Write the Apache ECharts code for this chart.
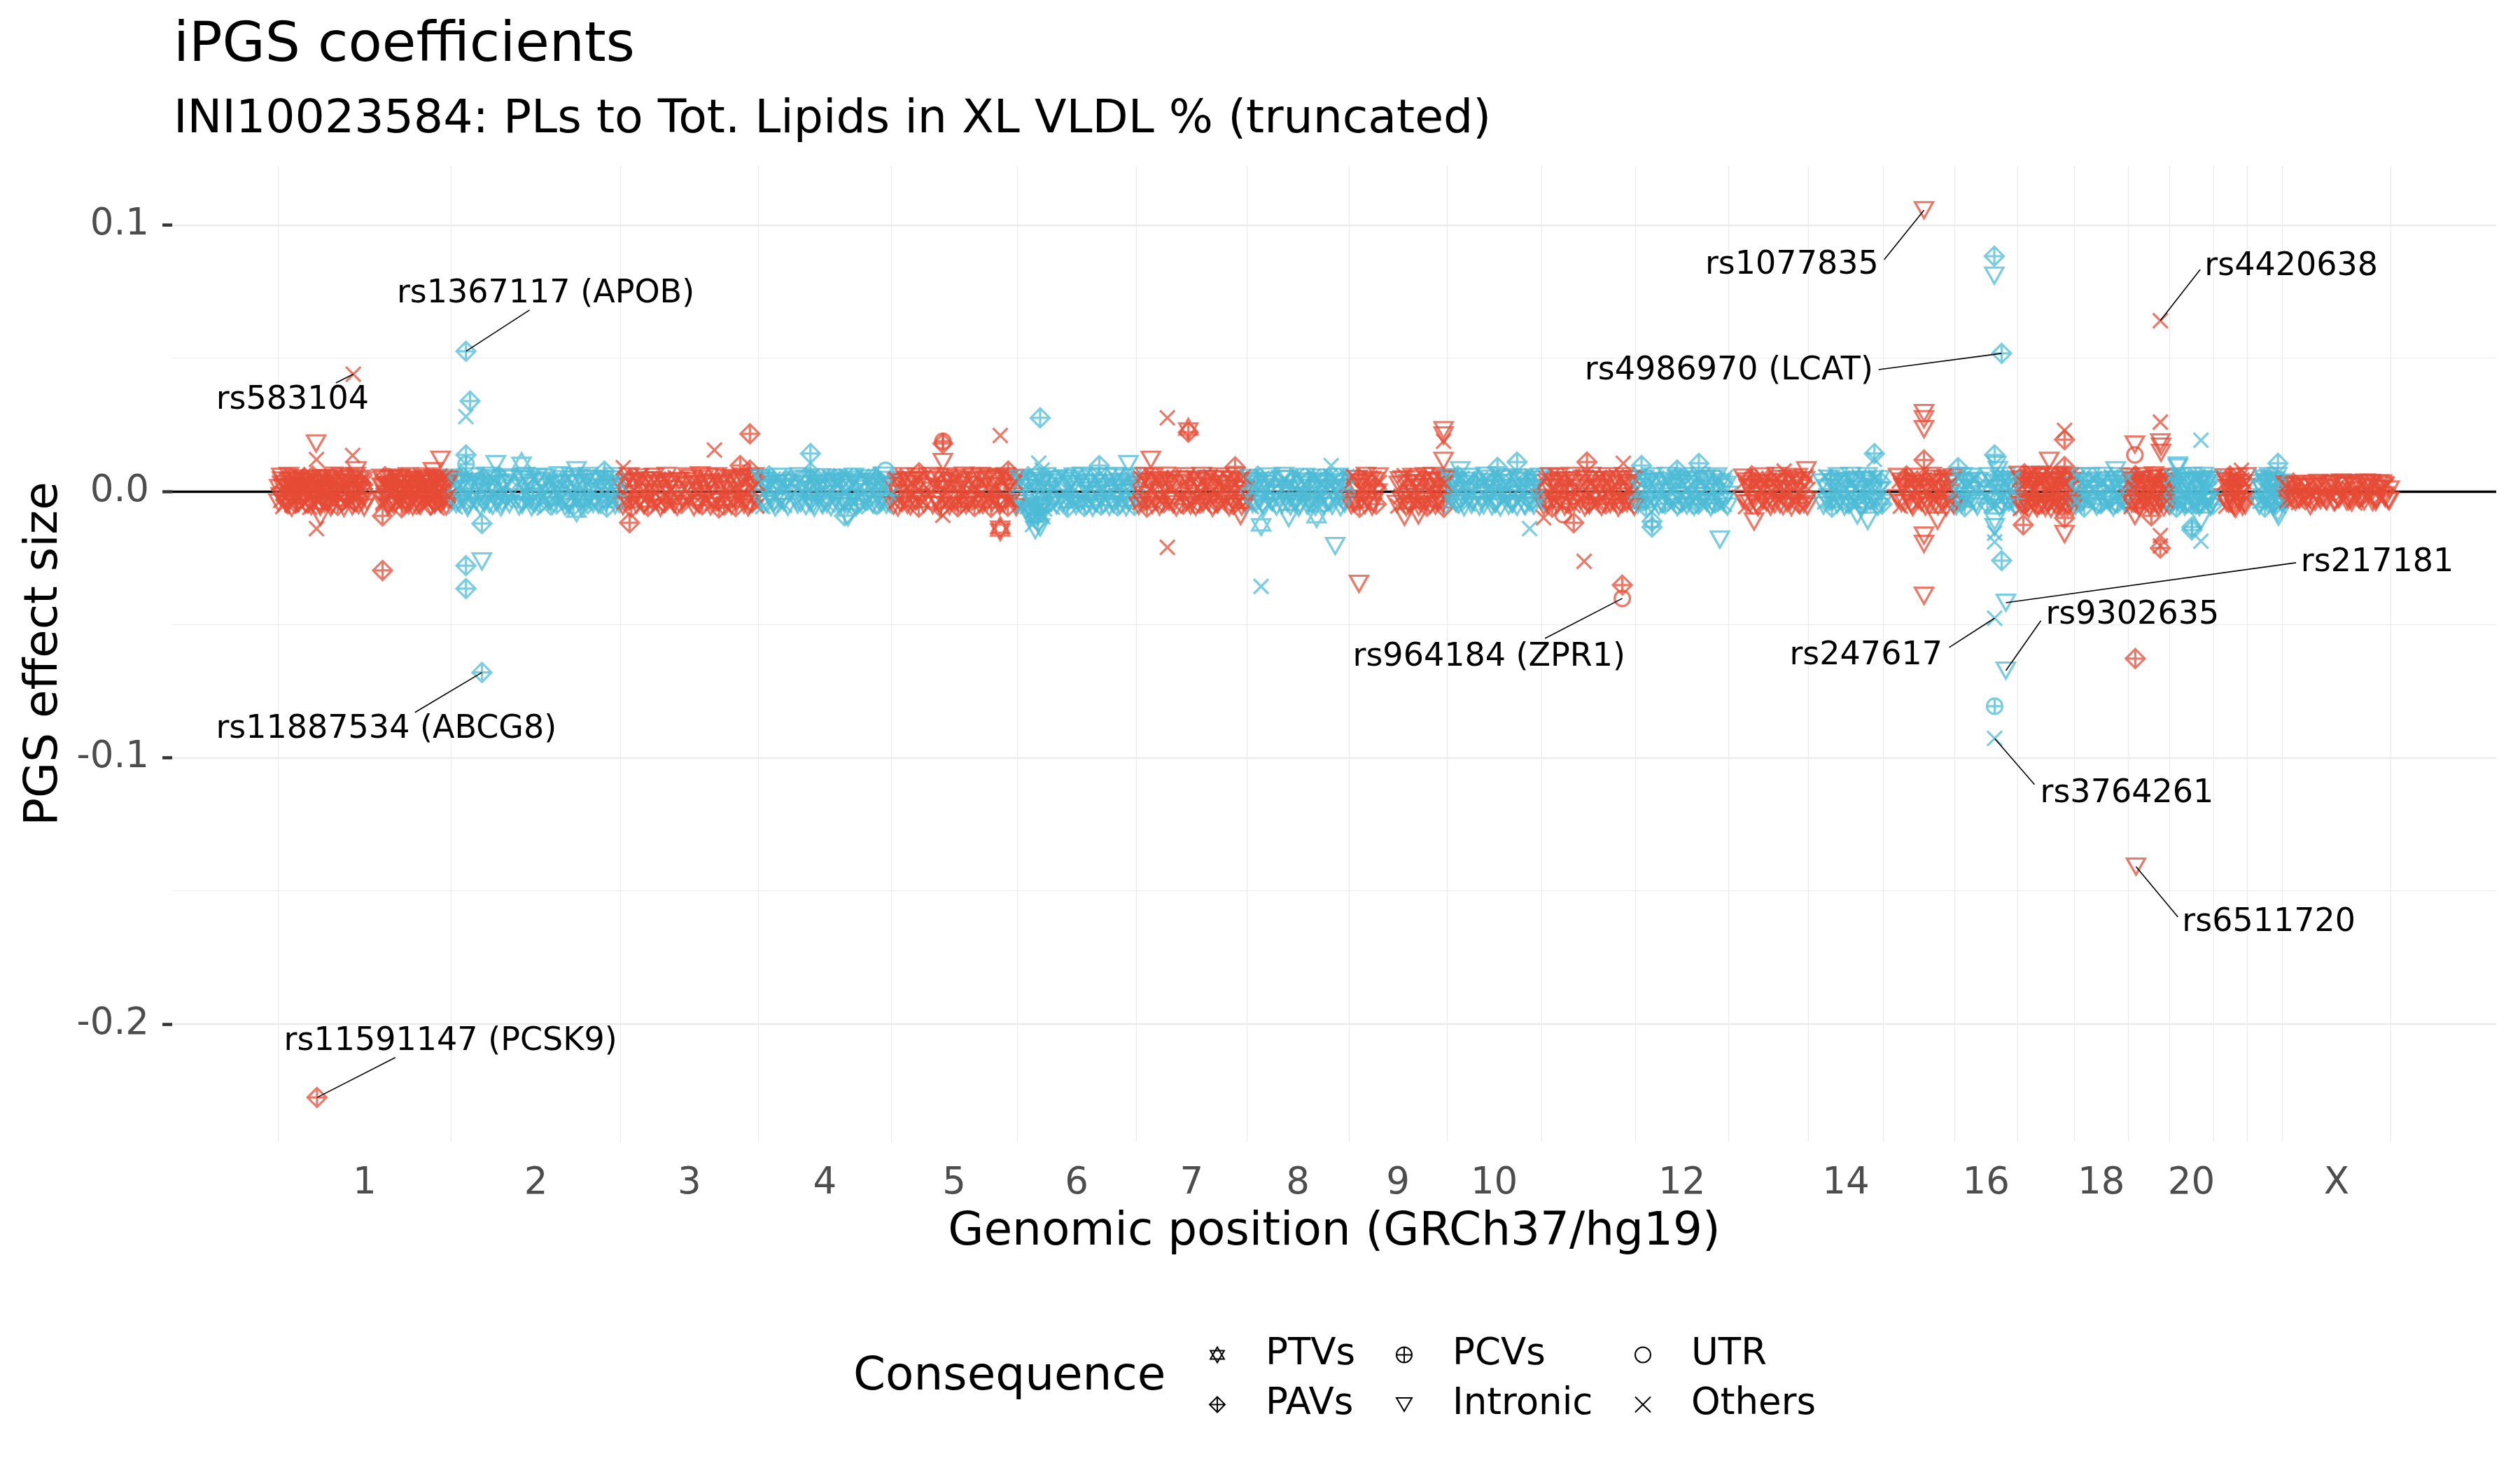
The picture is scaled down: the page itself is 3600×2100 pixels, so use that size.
<!DOCTYPE html>
<html>
<head>
<meta charset="utf-8">
<script src="https://cdn.jsdelivr.net/npm/echarts@6/dist/echarts.min.js"></script>
<style>html,body{margin:0;padding:0;background:#fff;}#c{width:3600px;height:2100px;}</style>
</head>
<body>
<div id="c"></div>
<script>
// ---------------- DATA ----------------
const chrNames = ['1','2','3','4','5','6','7','8','9','10','11','12','13','14','15','16','17','18','19','20','21','22','X'];
const chrLengths = [249.25,243.20,198.02,191.15,180.92,171.12,159.14,146.36,141.21,135.53,135.01,133.85,115.17,107.35,102.53,90.35,81.20,78.08,59.13,63.03,48.13,51.30,155.27];
const tickChrs = ['1','2','3','4','5','6','7','8','9','10','12','14','16','18','20','X'];
const consequences = ['PTVs','PAVs','PCVs','Intronic','UTR','Others'];
const yTicks = [-0.2,-0.1,0.0,0.1];
const yMinor = [-0.15,-0.05,0.05];

// dense bands (core): [position Mb within chromosome, beta x 1e-4, consequence index]
const bandChr1 = [[2,12,3],[4,-35,5],[6,41,3],[8,-8,5],[10,27,3],[12,-46,3],[14,5,5],[16,38,3],[18,-22,3],[20,-51,5],[22,19,3],[24,48,1],[26,-14,3],[28,31,5],[30,-39,3],[32,2,3],[34,52,5],[36,-27,3],[38,16,3],[40,-44,5],[42,36,3],[44,-5,3],[46,23,1],[48,-55,3],[50,44,5],[52,-18,3],[54,9,3],[56,-33,5],[58,29,3],[60,-48,3],[62,14,5],[64,50,3],[66,-24,3],[68,3,5],[70,-41,3],[72,35,1],[74,-12,3],[76,21,5],[78,-52,3],[80,42,3],[83,-6,5],[86,30,3],[89,-37,3],[92,11,5],[95,47,3],[98,-29,3],[101,-50,5],[104,26,3],[107,-15,3],[110,39,5],[113,-43,3],[116,7,3],[119,33,1],[122,-21,3],[125,46,5],[128,-36,3],[149,18,3],[151,-40,5],[153,45,3],[155,-10,3],[157,28,5],[159,-53,3],[161,13,3],[163,37,1],[165,-26,3],[167,4,5],[169,-45,3],[171,32,3],[173,-17,5],[175,49,3],[177,-31,3],[179,8,5],[181,-49,3],[183,25,3],[185,-3,5],[187,43,3],[189,-38,3],[191,17,1],[193,-20,3],[195,51,5],[197,-47,3],[199,10,3],[201,34,5],[203,-28,3],[205,-54,3],[207,22,5],[209,40,3],[211,-9,3],[213,-42,5],[215,29,3],[217,-16,3],[219,46,1],[221,-34,3],[223,6,5],[225,-50,3],[227,37,3],[229,-23,5],[231,15,3],[233,-44,3],[235,42,5],[237,-7,3],[239,27,3],[241,-39,5],[243,19,3],[245,-30,3]];
const bandChr2 = [[1,-30,3],[4,22,5],[7,-47,3],[10,40,3],[13,-12,1],[16,31,3],[19,-38,5],[22,8,3],[25,-52,3],[28,45,5],[31,-20,3],[34,15,3],[37,-41,5],[40,36,3],[43,-5,3],[46,50,1],[49,-33,3],[52,18,5],[55,-48,3],[58,27,3],[61,-9,5],[64,43,3],[67,-26,3],[70,4,5],[73,-44,3],[76,33,3],[79,-15,1],[82,48,3],[85,-37,5],[88,12,3],[96,-22,3],[99,39,5],[102,-50,3],[105,21,3],[108,-3,5],[111,46,3],[114,-31,3],[117,9,1],[120,-45,3],[123,30,5],[126,-18,3],[129,41,3],[132,-40,5],[135,16,3],[138,-7,3],[141,35,5],[144,-28,3],[147,3,3],[150,-42,5],[153,25,3],[156,-14,3],[159,38,1],[162,-36,3],[165,11,5],[168,-49,3],[171,29,3],[174,-10,5],[177,44,3],[180,-25,3],[183,6,5],[186,-39,3],[189,32,3],[192,-17,1],[195,47,3],[198,-34,5],[201,14,3],[204,-46,3],[207,24,5],[210,-2,3],[213,40,3],[216,-29,5],[219,10,3],[222,-43,3],[225,34,5],[228,-19,3],[231,45,3],[234,-35,5],[237,17,3],[240,-8,3],[242,28,5]];
const bandChr3 = [[2,18,3],[5,-40,5],[8,33,3],[11,-11,3],[14,47,1],[17,-29,3],[20,6,5],[23,-50,3],[26,38,3],[29,-19,5],[32,25,3],[35,-44,3],[38,12,5],[41,-4,3],[44,42,3],[47,-34,1],[50,20,3],[53,-53,5],[56,30,3],[59,-13,3],[62,49,5],[65,-38,3],[68,9,3],[71,-25,5],[74,36,3],[77,-47,3],[80,15,1],[83,-6,3],[86,44,5],[89,-32,3],[95,23,3],[98,-42,5],[101,3,3],[104,39,3],[107,-21,5],[110,28,3],[113,-49,3],[116,11,1],[119,46,3],[122,-30,5],[125,-9,3],[128,34,3],[131,-45,5],[134,19,3],[137,-16,3],[140,41,5],[143,-37,3],[146,7,3],[149,-52,1],[152,26,3],[155,-2,5],[158,45,3],[161,-27,3],[164,14,5],[167,-41,3],[170,32,3],[173,-12,5],[176,48,3],[179,-35,3],[182,21,1],[185,-46,3],[188,8,5],[191,37,3],[194,-23,3],[197,30,5]];
const bandChr4 = [[2,-26,3],[5,35,5],[8,-48,3],[11,13,3],[14,42,1],[17,-17,3],[20,24,5],[23,-39,3],[26,5,3],[29,47,5],[32,-31,3],[35,18,3],[38,-52,5],[41,31,3],[44,-8,3],[47,40,1],[55,-36,3],[58,10,5],[61,-44,3],[64,27,3],[67,-14,5],[70,45,3],[73,-28,3],[76,2,1],[79,-47,3],[82,33,5],[85,-20,3],[88,16,3],[91,43,5],[94,-38,3],[97,7,3],[100,-51,5],[103,29,3],[106,-11,3],[109,48,1],[112,-33,3],[115,20,5],[118,-43,3],[121,37,3],[124,-5,5],[127,26,3],[130,-40,3],[133,12,5],[136,44,3],[139,-24,3],[142,-49,1],[145,34,3],[148,-15,5],[151,22,3],[154,-37,3],[157,46,5],[160,-3,3],[163,30,3],[166,-45,5],[169,17,3],[172,-21,3],[175,39,1],[178,-32,3],[181,9,5],[184,-50,3],[187,25,3],[190,-12,5]];
const bandChr5 = [[2,20,3],[5,-43,5],[8,36,3],[11,-9,3],[14,47,1],[17,-30,3],[20,13,5],[23,-50,3],[26,28,3],[29,-18,5],[32,41,3],[35,-37,3],[38,4,5],[41,-24,3],[44,33,1],[47,-47,3],[55,17,3],[58,-6,5],[61,44,3],[64,-34,3],[67,22,5],[70,-52,3],[73,10,3],[76,38,1],[79,-20,3],[82,-41,5],[85,30,3],[88,-13,3],[91,48,5],[94,-28,3],[97,6,3],[100,-45,1],[103,35,3],[106,-16,5],[109,25,3],[112,-39,3],[115,2,5],[118,43,3],[121,-31,3],[124,15,1],[127,-49,3],[130,32,5],[133,-10,3],[136,46,3],[139,-26,5],[142,19,3],[145,-42,3],[148,8,5],[151,39,3],[154,-22,1],[157,-48,3],[160,27,5],[163,-3,3],[166,42,3],[169,-35,5],[172,14,3],[175,-19,3],[178,34,5],[180,-44,3]];
const bandChr6 = [[2,-29,3],[5,38,5],[8,-45,3],[11,14,3],[14,-58,5],[16,43,1],[18,-66,3],[20,-20,3],[22,-72,5],[24,31,3],[26,-55,3],[28,8,1],[30,-80,3],[32,47,5],[34,-38,3],[36,-62,3],[38,22,5],[40,-50,3],[43,-6,3],[46,36,1],[49,-42,3],[52,11,5],[55,-24,3],[58,45,3],[64,-33,5],[67,19,3],[70,-49,3],[73,3,5],[76,40,3],[79,-17,1],[82,28,3],[85,-40,5],[88,-7,3],[91,46,3],[94,-31,5],[97,16,3],[100,-52,3],[103,33,1],[106,-12,3],[109,24,5],[112,-44,3],[115,6,3],[118,41,5],[121,-27,3],[124,-47,3],[127,21,1],[130,-9,3],[133,37,5],[136,-36,3],[139,13,3],[142,48,5],[145,-21,3],[148,-50,3],[151,26,1],[154,-4,3],[157,35,5],[160,-39,3],[163,10,3],[166,44,5],[169,-25,3]];
const bandChr7 = [[2,24,3],[5,-41,5],[8,37,3],[11,-14,3],[14,49,1],[17,-33,3],[20,8,5],[23,-51,3],[26,30,3],[29,-21,5],[32,43,3],[35,-6,3],[38,-45,5],[41,18,3],[44,36,1],[47,-29,3],[50,3,5],[53,-48,3],[56,27,3],[66,-16,5],[69,45,3],[72,-38,3],[75,12,1],[78,-53,3],[81,33,5],[84,-9,3],[87,41,3],[90,-26,5],[93,20,3],[96,-44,3],[99,6,1],[102,47,3],[105,-32,5],[108,15,3],[111,-19,3],[114,39,5],[117,-49,3],[120,25,3],[123,-2,1],[126,44,3],[129,-36,5],[132,10,3],[135,-23,3],[138,34,5],[141,-46,3],[144,21,1],[147,-12,3],[150,48,5],[153,-30,3],[156,5,3],[158,-40,5]];
const bandChr8 = [[2,-22,3],[5,35,5],[8,-47,3],[11,12,3],[14,42,1],[17,-33,3],[20,4,5],[23,-52,3],[26,27,3],[29,-15,5],[32,40,3],[35,-38,3],[38,17,1],[41,-6,3],[49,46,3],[52,-28,5],[55,9,3],[58,-43,3],[61,31,5],[64,-18,3],[67,44,1],[70,-35,3],[73,2,5],[76,-49,3],[79,24,3],[82,-11,5],[85,38,3],[88,-41,3],[91,14,1],[94,-25,3],[97,47,5],[100,-31,3],[103,7,3],[106,-46,5],[109,29,3],[112,-13,3],[115,41,1],[118,-37,3],[121,19,5],[124,-3,3],[127,34,3],[130,-44,5],[133,11,3],[136,-20,3],[139,45,1],[142,-30,3],[145,22,5]];
const bandChr9 = [[2,-27,3],[5,39,5],[8,-44,3],[11,15,3],[14,48,1],[17,-35,3],[20,6,5],[23,-51,3],[26,30,3],[29,-12,5],[32,43,3],[35,-40,3],[38,19,1],[41,-4,3],[44,33,5],[69,-47,3],[72,25,3],[75,-18,5],[78,45,3],[81,-31,3],[84,9,1],[87,-53,3],[90,37,5],[93,-8,3],[96,28,3],[99,-42,5],[102,14,3],[105,-22,3],[108,47,1],[111,-36,3],[114,3,5],[117,-49,3],[120,34,3],[123,-14,5],[126,41,3],[129,-29,3],[132,18,1],[135,-45,3],[137,31,5],[140,-10,3]];
const bandChr10 = [[2,25,3],[5,-38,5],[8,44,3],[11,-10,3],[14,32,1],[17,-47,3],[20,13,5],[23,-24,3],[26,40,3],[29,-35,5],[32,6,3],[35,-50,3],[38,28,1],[45,-16,3],[48,46,5],[51,-30,3],[54,10,3],[57,-43,5],[60,35,3],[63,-5,3],[66,22,1],[69,-48,3],[72,39,5],[75,-19,3],[78,14,3],[81,-37,5],[84,47,3],[87,-26,3],[90,3,1],[93,-45,3],[96,30,5],[99,-12,3],[102,42,3],[105,-33,5],[108,17,3],[111,-52,3],[114,26,1],[117,-7,3],[120,37,5],[123,-40,3],[126,9,3],[129,-21,5],[132,45,3],[134,-31,3]];
const bandChr11 = [[2,-23,3],[5,36,5],[8,-46,3],[11,14,3],[14,45,1],[17,-30,3],[20,5,5],[23,-50,3],[26,29,3],[29,-14,5],[32,41,3],[35,-39,3],[38,20,1],[41,-5,3],[44,34,5],[47,-44,3],[50,12,3],[57,-25,5],[60,47,3],[63,-34,3],[66,8,1],[69,-52,3],[72,31,5],[75,-17,3],[78,42,3],[81,-41,5],[84,17,3],[87,-8,3],[90,38,1],[93,-28,3],[96,2,5],[99,-47,3],[102,27,3],[105,-19,5],[108,44,3],[111,-36,3],[114,11,1],[117,-3,3],[120,35,5],[123,-43,3],[126,22,3],[129,-12,5],[132,46,3],[134,-32,3]];
const bandChr12 = [[2,30,3],[5,-42,5],[8,17,3],[11,-11,3],[14,45,1],[17,-33,3],[20,7,5],[23,-50,3],[26,36,3],[29,-20,5],[32,24,3],[38,-45,3],[41,11,1],[44,-4,3],[47,42,5],[50,-29,3],[53,19,3],[56,-48,5],[59,33,3],[62,-15,3],[65,46,1],[68,-37,3],[71,4,5],[74,-53,3],[77,27,3],[80,-9,5],[83,40,3],[86,-31,3],[89,13,1],[92,-44,3],[95,35,5],[98,-18,3],[101,48,3],[104,-26,5],[107,9,3],[110,-40,3],[113,29,1],[116,-2,3],[119,43,5],[122,-35,3],[125,16,3],[128,-49,5],[131,25,3],[133,-13,3]];
const bandChr13 = [[20,-28,3],[23,37,5],[26,-45,3],[29,13,3],[32,46,1],[35,-17,3],[38,28,5],[41,-51,3],[44,6,3],[47,40,5],[50,-34,3],[53,20,1],[56,-8,3],[59,44,5],[62,-40,3],[65,11,3],[68,-24,5],[71,35,3],[74,-48,3],[77,3,1],[80,30,3],[83,-14,5],[86,47,3],[89,-37,3],[92,16,5],[95,-2,3],[98,39,3],[101,-44,1],[104,24,3],[107,-20,5],[110,42,3],[113,-31,3],[114.5,8,5]];
const bandChr14 = [[20,33,3],[23,-40,5],[26,12,3],[29,-22,3],[32,45,1],[35,-35,3],[38,4,5],[41,-49,3],[44,27,3],[47,-9,5],[50,38,3],[53,-31,3],[56,18,1],[59,-45,3],[62,31,5],[65,-14,3],[68,43,3],[71,-26,5],[74,7,3],[77,-52,3],[80,22,1],[83,40,3],[86,-18,5],[89,-38,3],[92,14,3],[95,47,5],[98,-30,3],[101,2,3],[104,35,1],[106,-43,3]];
const bandChr15 = [[20,-25,3],[23,39,5],[26,-43,3],[29,16,3],[32,46,1],[35,-12,3],[38,29,5],[41,-50,3],[44,8,3],[47,41,5],[50,-34,3],[53,21,1],[56,-5,3],[59,44,5],[62,-39,3],[65,13,3],[68,-21,5],[71,36,3],[74,-47,3],[77,4,1],[80,31,3],[83,-16,5],[86,45,3],[89,-36,3],[92,19,5],[95,-7,3],[98,38,3],[101,-42,1]];
const bandChr16 = [[1,28,3],[4,-39,5],[7,14,3],[10,-47,3],[13,42,1],[16,-18,3],[19,33,5],[22,-30,3],[25,5,3],[28,46,5],[31,-44,3],[34,20,1],[48,-12,3],[51,37,5],[54,-34,3],[57,10,3],[60,-50,5],[63,27,3],[66,-7,3],[69,44,1],[72,-26,3],[75,16,5],[78,-41,3],[81,35,3],[84,-2,5],[87,41,3],[89,-31,3]];
const bandChr17 = [[1,-30,3],[3,44,5],[5,-52,3],[7,18,3],[9,50,1],[11,-16,3],[13,34,5],[15,-44,3],[17,7,3],[19,-58,5],[21,40,3],[23,-24,1],[25,26,3],[27,-38,5],[29,55,3],[31,-6,3],[33,32,5],[35,-49,3],[37,12,1],[39,-27,3],[41,47,5],[43,-40,3],[45,3,3],[47,-55,5],[49,36,3],[51,-13,1],[53,22,3],[55,-46,5],[57,42,3],[59,-20,3],[61,9,5],[63,-36,3],[65,52,1],[67,-9,3],[69,28,5],[71,-50,3],[73,15,3],[75,-31,5],[77,39,3],[79,-22,1],[80,5,3]];
const bandChr18 = [[1,24,3],[4,-37,5],[7,11,3],[10,-48,3],[13,40,1],[16,-15,3],[19,31,5],[22,-29,3],[25,6,3],[28,45,5],[31,-42,3],[34,19,1],[37,-8,3],[40,36,5],[43,-33,3],[46,14,3],[49,-50,5],[52,28,3],[55,-20,1],[58,43,3],[61,-39,5],[64,9,3],[67,-25,3],[70,38,5],[73,-45,3],[76,17,1],[77.5,-10,3]];
const bandChr19 = [[1,-27,3],[3,38,5],[5,-45,3],[7,15,3],[9,48,1],[11,-16,3],[13,30,5],[15,-50,3],[17,7,3],[19,-33,5],[21,42,3],[23,-8,1],[28,25,3],[30,-40,5],[32,12,3],[34,46,3],[36,-22,1],[38,33,5],[40,-48,3],[42,4,3],[44,39,5],[46,-30,3],[48,19,1],[50,-12,3],[52,44,5],[54,-42,3],[56,27,3],[58,-5,5]];
const bandChr20 = [[1,30,3],[3,-41,5],[5,12,3],[7,-24,3],[9,45,1],[11,-36,3],[13,6,5],[15,-49,3],[17,35,3],[19,-14,5],[21,22,3],[23,-44,1],[25,40,3],[30,-6,5],[32,28,3],[34,-38,3],[36,16,1],[38,-52,3],[40,47,5],[42,-20,3],[44,9,3],[46,-33,5],[48,37,3],[50,-10,1],[52,24,3],[54,-46,5],[56,42,3],[58,-28,3],[60,14,5],[62,-40,3]];
const bandChr21 = [[15,-22,3],[17,34,5],[19,-42,3],[21,13,3],[23,44,1],[25,-15,3],[27,28,5],[29,-48,3],[31,6,3],[33,39,5],[35,-30,3],[37,20,1],[39,-6,3],[41,43,5],[43,-37,3],[45,16,3],[47,-25,5]];
const bandChr22 = [[17,31,3],[19,-38,5],[21,10,3],[23,-22,3],[25,46,1],[27,-33,3],[29,4,5],[31,-47,3],[33,27,3],[35,-12,5],[37,40,3],[39,-41,1],[41,17,3],[43,-4,3],[45,35,5],[47,-28,3],[49,21,1],[50.5,-45,3]];
const bandChrX = [[2,-14,3],[5,22,5],[8,-28,3],[11,9,3],[14,-35,5],[17,25,3],[20,-6,3],[23,-42,5],[26,15,3],[29,-20,3],[32,4,5],[35,-30,3],[38,18,3],[41,-12,5],[44,27,3],[47,-38,3],[50,8,5],[53,-24,3],[56,20,3],[59,-3,5],[62,-33,3],[65,13,3],[68,-17,5],[71,28,3],[74,-40,3],[77,6,5],[80,-26,3],[83,21,3],[86,-9,5],[89,31,3],[92,-36,3],[95,11,5],[98,-19,3],[101,26,3],[104,-44,5],[107,3,3],[110,-29,3],[113,24,5],[116,-13,3],[119,33,3],[122,-32,5],[125,16,3],[128,-5,3],[131,29,5],[134,-39,3],[137,10,3],[140,-22,5],[143,30,3],[146,-15,3],[149,19,5],[152,-34,3],[154,7,3]];

// dense bands (outer points), flat triples: position Mb, beta x 1e-4, consequence index
const edgeChr1 = [1,-42,3, 2,31,5, 4,-18,3, 5,55,3, 7,-57,5, 8,12,3, 10,46,1, 11,-33,3, 13,24,5, 14,-50,3, 16,58,3, 17,-8,5, 19,39,3, 20,-61,3, 22,20,5, 23,-27,3, 25,49,3, 26,-45,1, 28,5,3, 29,60,5, 31,-38,3, 32,34,3, 34,-55,5, 35,15,3, 37,-20,3, 38,52,1, 40,-48,3, 41,27,5, 43,-2,3, 44,44,3, 46,-60,5, 47,37,3, 49,-30,3, 50,57,1, 52,-12,3, 53,-52,5, 55,29,3, 56,47,3, 58,-40,5, 59,9,3, 61,-58,3, 62,41,1, 64,-23,3, 65,54,5, 67,-46,3, 68,18,3, 70,-6,5, 71,50,3, 73,-36,3, 74,25,1, 76,-59,3, 77,43,5, 79,-15,3, 80,59,3, 82,-44,5, 83,3,3, 85,36,3, 86,-53,1, 88,21,3, 89,-28,5, 91,56,3, 92,-41,3, 94,11,5, 95,-62,3, 97,45,3, 98,-17,1, 100,32,3, 101,-49,5, 103,53,3, 104,-9,3, 106,38,5, 107,-56,3, 109,16,3, 110,-34,1, 112,58,3, 113,-24,5, 115,42,3, 116,-51,3, 118,7,5, 119,48,3, 121,-39,3, 122,26,1, 124,-60,3, 125,35,5, 148,-31,3, 149,51,3, 151,-47,5, 152,14,3, 154,55,1, 155,-21,3, 157,40,5, 158,-58,3, 160,23,3, 161,-5,5, 163,47,3, 164,-43,3, 166,30,1, 167,-54,3, 169,59,5, 170,-14,3, 172,37,3, 173,-37,5, 175,10,3, 176,52,3, 178,-61,1, 179,28,3, 181,-26,5, 182,46,3, 184,-45,3, 185,4,5, 187,57,3, 188,-52,3, 190,33,1, 191,-11,3, 193,44,5, 194,-57,3, 196,19,3, 197,53,5, 199,-35,3, 200,-3,3, 202,39,1, 203,-50,3, 205,60,5, 206,-19,3, 208,27,3, 209,-59,5, 211,48,3, 212,-29,3, 214,8,1, 215,56,3, 217,-44,5, 218,35,3, 220,-55,3, 221,17,5, 223,-10,3, 224,50,3, 226,-40,1, 227,43,3, 229,-62,5, 230,22,3, 232,-25,3, 233,58,5, 235,-48,3, 236,13,3, 238,40,1, 239,-33,3, 241,54,5, 242,-56,3, 244,30,3, 245,-16,5, 247,45,3];
const edgeChr2 = [2.5,52,3, 5.5,-58,5, 8.5,35,3, 11.5,-44,3, 14.5,60,1, 17.5,-30,3, 20.5,47,5, 23.5,-61,3, 26.5,26,3, 29.5,-49,5, 32.5,56,3, 35.5,-37,3, 38.5,44,5, 41.5,-57,3, 44.5,30,1, 47.5,-46,3, 50.5,59,3, 53.5,-25,5, 56.5,50,3, 59.5,-54,3, 62.5,38,5, 65.5,-42,3, 68.5,57,1, 71.5,-60,3, 74.5,27,3, 77.5,-35,5, 80.5,53,3, 83.5,-48,3, 86.5,41,5, 97.5,-56,3, 100.5,45,3, 103.5,-32,1, 106.5,58,3, 109.5,-51,5, 112.5,33,3, 115.5,-59,3, 118.5,49,5, 121.5,-28,3, 124.5,55,3, 127.5,-45,1, 130.5,36,3, 133.5,-62,5, 136.5,52,3, 139.5,-38,3, 142.5,43,5, 145.5,-53,3, 148.5,29,3, 151.5,-47,1, 154.5,60,3, 157.5,-31,5, 160.5,46,3, 163.5,-58,3, 166.5,39,5, 169.5,-43,3, 172.5,56,3, 175.5,-55,1, 178.5,32,3, 181.5,-36,5, 184.5,51,3, 187.5,-61,3, 190.5,42,5, 193.5,-46,3, 196.5,58,3, 199.5,-29,1, 202.5,48,3, 205.5,-57,5, 208.5,35,3, 211.5,-50,3, 214.5,54,5, 217.5,-40,3, 220.5,45,3, 223.5,-59,1, 226.5,28,3, 229.5,-34,5, 232.5,57,3, 235.5,-52,3, 238.5,40,5, 241.5,-47,3];
const edgeChr3 = [3.5,-55,3, 6.5,48,5, 9.5,-38,3, 12.5,57,3, 15.5,-60,1, 18.5,33,3, 21.5,-45,5, 24.5,53,3, 27.5,-29,3, 30.5,59,5, 33.5,-52,3, 36.5,41,3, 39.5,-57,1, 42.5,30,3, 45.5,-48,5, 48.5,55,3, 51.5,-35,3, 54.5,46,5, 57.5,-61,3, 60.5,37,3, 63.5,-42,1, 66.5,58,3, 69.5,-54,5, 72.5,27,3, 75.5,-31,3, 78.5,52,5, 81.5,-58,3, 84.5,39,3, 87.5,-46,1, 96.5,56,3, 99.5,-33,5, 102.5,49,3, 105.5,-59,3, 108.5,35,5, 111.5,-44,3, 114.5,60,3, 117.5,-51,1, 120.5,28,3, 123.5,-37,5, 126.5,54,3, 129.5,-56,3, 132.5,43,5, 135.5,-40,3, 138.5,57,3, 141.5,-62,1, 144.5,31,3, 147.5,-47,5, 150.5,50,3, 153.5,-34,3, 156.5,58,5, 159.5,-53,3, 162.5,38,3, 165.5,-57,1, 168.5,45,3, 171.5,-30,5, 174.5,55,3, 177.5,-49,3, 180.5,34,5, 183.5,-60,3, 186.5,51,3, 189.5,-41,1, 192.5,57,3, 195.5,-55,5];
const edgeChr4 = [3.5,50,3, 6.5,-57,5, 9.5,39,3, 12.5,-46,3, 15.5,58,1, 18.5,-33,3, 21.5,47,5, 24.5,-60,3, 27.5,29,3, 30.5,-50,5, 33.5,55,3, 36.5,-38,3, 39.5,44,1, 42.5,-58,3, 45.5,32,5, 56.5,-49,3, 59.5,57,3, 62.5,-27,5, 65.5,48,3, 68.5,-55,3, 71.5,36,1, 74.5,-43,3, 77.5,59,5, 80.5,-61,3, 83.5,30,3, 86.5,-36,5, 89.5,53,3, 92.5,-52,3, 95.5,42,1, 98.5,-47,3, 101.5,56,5, 104.5,-59,3, 107.5,34,3, 110.5,-30,5, 113.5,51,3, 116.5,-56,3, 119.5,45,1, 122.5,-41,3, 125.5,58,5, 128.5,-54,3, 131.5,28,3, 134.5,-37,5, 137.5,55,3, 140.5,-60,3, 143.5,40,1, 146.5,-45,3, 149.5,57,5, 152.5,-32,3, 155.5,49,3, 158.5,-58,5, 161.5,37,3, 164.5,-48,3, 167.5,54,1, 170.5,-53,3, 173.5,31,5, 176.5,-39,3, 179.5,59,3, 182.5,-57,5, 185.5,43,3, 188.5,-44,3];
const edgeChr5 = [3.5,-53,3, 6.5,46,5, 9.5,-60,3, 12.5,34,3, 15.5,-39,1, 18.5,57,3, 21.5,-48,5, 24.5,41,3, 27.5,-56,3, 30.5,29,5, 33.5,-31,3, 36.5,55,3, 39.5,-59,1, 42.5,44,3, 45.5,-42,5, 56.5,58,3, 59.5,-51,3, 62.5,32,5, 65.5,-36,3, 68.5,53,3, 71.5,-61,1, 74.5,40,3, 77.5,-45,5, 80.5,56,3, 83.5,-55,3, 86.5,27,5, 89.5,-34,3, 92.5,50,3, 95.5,-58,1, 98.5,43,3, 101.5,-47,5, 104.5,59,3, 107.5,-52,3, 110.5,36,5, 113.5,-29,3, 116.5,54,3, 119.5,-57,1, 122.5,38,3, 125.5,-44,5, 128.5,58,3, 131.5,-50,3, 134.5,31,5, 137.5,-40,3, 140.5,55,3, 143.5,-60,1, 146.5,47,3, 149.5,-35,5, 152.5,52,3, 155.5,-54,3, 158.5,39,5, 161.5,-46,3, 164.5,57,3, 167.5,-56,1, 170.5,33,3, 173.5,-38,5, 176.5,51,3, 179.5,-59,3];
const edgeChr6 = [3.5,48,3, 6.5,-56,5, 9.5,37,3, 12.5,-68,3, 15.5,55,1, 17,-75,3, 19.5,-48,5, 21,-85,3, 23.5,40,3, 25,-70,5, 27.5,-60,3, 29,-90,1, 31.5,52,3, 33.5,-78,5, 35,-58,3, 37.5,30,3, 39.5,-66,5, 41.5,57,3, 44.5,-47,1, 47.5,44,3, 50.5,-59,5, 53.5,34,3, 56.5,-52,3, 63.5,58,5, 66.5,-41,3, 69.5,49,3, 72.5,-60,1, 75.5,28,3, 78.5,-35,5, 81.5,56,3, 84.5,-54,3, 87.5,42,5, 90.5,-46,3, 93.5,59,3, 96.5,-57,1, 99.5,33,3, 102.5,-38,5, 105.5,53,3, 108.5,-61,3, 111.5,45,5, 114.5,-43,3, 117.5,57,3, 120.5,-52,1, 123.5,31,3, 126.5,-33,5, 129.5,54,3, 132.5,-58,3, 135.5,40,5, 138.5,-48,3, 141.5,58,3, 144.5,-55,1, 147.5,36,3, 150.5,-42,5, 153.5,51,3, 156.5,-60,3, 159.5,46,5, 162.5,-37,3, 165.5,56,3, 168.5,-53,1];
const edgeChr7 = [3.5,-54,3, 6.5,50,5, 9.5,-40,3, 12.5,58,3, 15.5,-59,1, 18.5,35,3, 21.5,-47,5, 24.5,55,3, 27.5,-32,3, 30.5,47,5, 33.5,-57,3, 36.5,40,3, 39.5,-43,1, 42.5,59,3, 45.5,-52,5, 48.5,31,3, 51.5,-36,3, 54.5,53,5, 57.5,-60,3, 64.5,44,3, 67.5,-48,1, 70.5,57,3, 73.5,-55,5, 76.5,33,3, 79.5,-30,3, 82.5,52,5, 85.5,-58,3, 88.5,42,3, 91.5,-45,1, 94.5,58,3, 97.5,-53,5, 100.5,36,3, 103.5,-39,3, 106.5,55,5, 109.5,-61,3, 112.5,46,3, 115.5,-41,1, 118.5,56,3, 121.5,-56,5, 124.5,29,3, 127.5,-34,3, 130.5,51,5, 133.5,-59,3, 136.5,43,3, 139.5,-50,1, 142.5,57,3, 145.5,-47,5, 148.5,38,3, 151.5,-57,3, 154.5,54,5, 157.5,-44,3];
const edgeChr8 = [3.5,51,3, 6.5,-58,5, 9.5,38,3, 12.5,-45,3, 15.5,57,1, 18.5,-34,3, 21.5,49,5, 24.5,-60,3, 27.5,30,3, 30.5,-51,5, 33.5,56,3, 36.5,-40,3, 39.5,46,1, 42.5,-57,3, 48.5,35,5, 50.5,-49,3, 53.5,58,3, 56.5,-29,5, 59.5,47,3, 62.5,-56,3, 65.5,37,1, 68.5,-44,3, 71.5,59,5, 74.5,-61,3, 77.5,32,3, 80.5,-37,5, 83.5,54,3, 86.5,-53,3, 89.5,43,1, 92.5,-48,3, 95.5,57,5, 98.5,-58,3, 101.5,36,3, 104.5,-31,5, 107.5,52,3, 110.5,-55,3, 113.5,44,1, 116.5,-42,3, 119.5,58,5, 122.5,-54,3, 125.5,29,3, 128.5,-38,5, 131.5,55,3, 134.5,-59,3, 137.5,41,1, 140.5,-46,3, 143.5,56,5];
const edgeChr9 = [3.5,-52,3, 6.5,55,5, 9.5,-37,3, 12.5,47,3, 15.5,-60,1, 18.5,33,3, 21.5,-45,5, 24.5,58,3, 27.5,-30,3, 30.5,50,5, 33.5,-57,3, 36.5,39,3, 39.5,-48,1, 42.5,56,3, 70.5,-55,5, 73.5,42,3, 76.5,-34,3, 79.5,59,5, 82.5,-59,3, 85.5,31,3, 88.5,-41,1, 91.5,54,3, 94.5,-50,5, 97.5,45,3, 100.5,-58,3, 103.5,36,5, 106.5,-33,3, 109.5,57,3, 112.5,-56,1, 115.5,40,3, 118.5,-44,5, 121.5,58,3, 124.5,-53,3, 127.5,30,5, 130.5,-39,3, 133.5,52,3, 136.5,-60,1, 139.5,46,3];
const edgeChr10 = [3.5,53,3, 6.5,-55,5, 9.5,36,3, 12.5,-43,3, 15.5,58,1, 18.5,-31,3, 21.5,50,5, 24.5,-59,3, 27.5,29,3, 30.5,-48,5, 33.5,55,3, 36.5,-39,3, 43.5,45,1, 46.5,-57,3, 49.5,34,5, 52.5,-52,3, 55.5,59,3, 58.5,-27,5, 61.5,48,3, 64.5,-56,3, 67.5,38,1, 70.5,-44,3, 73.5,57,5, 76.5,-60,3, 79.5,31,3, 82.5,-35,5, 85.5,53,3, 88.5,-54,3, 91.5,41,1, 94.5,-47,3, 97.5,56,5, 100.5,-58,3, 103.5,37,3, 106.5,-32,5, 109.5,52,3, 112.5,-55,3, 115.5,44,1, 118.5,-41,3, 121.5,58,5, 124.5,-53,3, 127.5,33,3, 130.5,-45,5, 133.5,55,3];
const edgeChr11 = [3.5,-56,3, 6.5,49,5, 9.5,-38,3, 12.5,57,3, 15.5,-59,1, 18.5,36,3, 21.5,-44,5, 24.5,54,3, 27.5,-31,3, 30.5,48,5, 33.5,-57,3, 36.5,41,3, 39.5,-46,1, 42.5,58,3, 45.5,-53,5, 48.5,32,3, 56.5,-35,3, 59.5,55,5, 62.5,-60,3, 65.5,43,3, 68.5,-42,1, 71.5,58,3, 74.5,-55,5, 77.5,30,3, 80.5,-33,3, 83.5,53,5, 86.5,-58,3, 89.5,44,3, 92.5,-47,1, 95.5,57,3, 98.5,-52,5, 101.5,35,3, 104.5,-40,3, 107.5,56,5, 110.5,-61,3, 113.5,46,3, 116.5,-43,1, 119.5,57,3, 122.5,-54,5, 125.5,31,3, 128.5,-37,3, 131.5,52,5, 133.5,-58,3];
const edgeChr12 = [3.5,-50,3, 6.5,56,5, 9.5,-39,3, 12.5,48,3, 15.5,-60,1, 18.5,34,3, 21.5,-46,5, 24.5,57,3, 27.5,-29,3, 30.5,51,5, 33.5,-56,3, 39.5,40,3, 42.5,-47,1, 45.5,58,3, 48.5,-54,5, 51.5,32,3, 54.5,-36,3, 57.5,54,5, 60.5,-59,3, 63.5,43,3, 66.5,-42,1, 69.5,57,3, 72.5,-57,5, 75.5,30,3, 78.5,-34,3, 81.5,52,5, 84.5,-58,3, 87.5,45,3, 90.5,-48,1, 93.5,58,3, 96.5,-53,5, 99.5,37,3, 102.5,-41,3, 105.5,55,5, 108.5,-60,3, 111.5,47,3, 114.5,-44,1, 117.5,56,3, 120.5,-55,5, 123.5,33,3, 126.5,-38,3, 129.5,53,5, 132.5,-57,3];
const edgeChr13 = [21.5,52,3, 24.5,-57,5, 27.5,38,3, 30.5,-45,3, 33.5,58,1, 36.5,-33,3, 39.5,49,5, 42.5,-60,3, 45.5,31,3, 48.5,-50,5, 51.5,56,3, 54.5,-41,3, 57.5,45,1, 60.5,-57,3, 63.5,35,5, 66.5,-48,3, 69.5,58,3, 72.5,-30,5, 75.5,47,3, 78.5,-55,3, 81.5,39,1, 84.5,-44,3, 87.5,57,5, 90.5,-59,3, 93.5,32,3, 96.5,-38,5, 99.5,54,3, 102.5,-52,3, 105.5,42,1, 108.5,-47,3, 111.5,56,5, 113.5,-56,3];
const edgeChr14 = [21.5,-53,3, 24.5,55,5, 27.5,-38,3, 30.5,48,3, 33.5,-59,1, 36.5,34,3, 39.5,-46,5, 42.5,57,3, 45.5,-31,3, 48.5,51,5, 51.5,-57,3, 54.5,40,3, 57.5,-47,1, 60.5,58,3, 63.5,-54,5, 66.5,33,3, 69.5,-36,3, 72.5,55,5, 75.5,-60,3, 78.5,44,3, 81.5,-43,1, 84.5,57,3, 87.5,-56,5, 90.5,30,3, 93.5,-34,3, 96.5,53,5, 99.5,-58,3, 102.5,46,3, 105.5,-48,1];
const edgeChr15 = [21.5,54,3, 24.5,-56,5, 27.5,37,3, 30.5,-44,3, 33.5,58,1, 36.5,-32,3, 39.5,50,5, 42.5,-59,3, 45.5,30,3, 48.5,-49,5, 51.5,55,3, 54.5,-40,3, 57.5,46,1, 60.5,-57,3, 63.5,35,5, 66.5,-52,3, 69.5,58,3, 72.5,-28,5, 75.5,48,3, 78.5,-55,3, 81.5,38,1, 84.5,-45,3, 87.5,57,5, 90.5,-60,3, 93.5,33,3, 96.5,-37,5, 99.5,53,3, 101.5,-53,3];
const edgeChr16 = [2.5,-55,3, 5.5,50,5, 8.5,-39,3, 11.5,57,3, 14.5,-58,1, 17.5,36,3, 20.5,-47,5, 23.5,55,3, 26.5,-32,3, 29.5,48,5, 32.5,-57,3, 35,40,3, 47,-45,1, 49.5,57,3, 52.5,-54,5, 55.5,33,3, 58.5,-37,3, 61.5,54,5, 64.5,-60,3, 67.5,44,3, 70.5,-43,1, 73.5,58,3, 76.5,-56,5, 79.5,31,3, 82.5,-35,3, 85.5,53,5, 88.5,-58,3];
const edgeChr17 = [2,62,3, 4,-64,5, 6,45,3, 8,-50,3, 10,66,1, 12,-40,3, 14,55,5, 16,-66,3, 18,36,3, 20,-57,5, 22,61,3, 24,-47,3, 26,51,1, 28,-63,3, 30,40,5, 32,-52,3, 34,63,3, 36,-34,5, 38,53,3, 40,-61,3, 42,44,1, 44,-48,3, 46,65,5, 48,-65,3, 50,38,3, 52,-43,5, 54,59,3, 56,-59,3, 58,48,1, 60,-54,3, 62,64,5, 64,-62,3, 66,42,3, 68,-38,5, 70,57,3, 72,-60,3, 74,50,1, 76,-46,3, 78,62,5, 80,-57,3];
const edgeChr18 = [2.5,-54,3, 5.5,52,5, 8.5,-37,3, 11.5,57,3, 14.5,-59,1, 17.5,35,3, 20.5,-46,5, 23.5,56,3, 26.5,-31,3, 29.5,49,5, 32.5,-57,3, 35.5,41,3, 38.5,-47,1, 41.5,58,3, 44.5,-55,5, 47.5,33,3, 50.5,-36,3, 53.5,55,5, 56.5,-60,3, 59.5,44,3, 62.5,-44,1, 65.5,57,3, 68.5,-56,5, 71.5,30,3, 74.5,-38,3, 77,52,5];
const edgeChr19 = [2,55,3, 4,-58,5, 6,40,3, 8,-44,3, 10,59,1, 12,-35,3, 14,51,5, 16,-61,3, 18,32,3, 20,-52,5, 22,57,3, 24,-39,3, 29,47,1, 31,-57,3, 33,36,5, 35,-49,3, 37,60,3, 39,-31,5, 41,50,3, 43,-56,3, 45,41,1, 47,-45,3, 49,58,5, 51,-60,3, 53,34,3, 55,-37,5, 57,54,3, 58.5,-53,3];
const edgeChr20 = [2,-53,3, 4,54,5, 6,-40,3, 8,49,3, 10,-60,1, 12,36,3, 14,-45,5, 16,57,3, 18,-31,3, 20,51,5, 22,-57,3, 24,38,3, 31,-47,1, 33,58,3, 35,-55,5, 37,33,3, 39,-36,3, 41,56,5, 43,-59,3, 45,45,3, 47,-43,1, 49,58,3, 51,-56,5, 53,31,3, 55,-35,3, 57,53,5, 59,-58,3, 61,46,3, 62.5,-49,1];
const edgeChr21 = [16,53,3, 18,-56,5, 20,38,3, 22,-45,3, 24,58,1, 26,-33,3, 28,50,5, 30,-60,3, 32,31,3, 34,-49,5, 36,55,3, 38,-41,3, 40,46,1, 42,-57,3, 44,35,5, 46,-52,3, 47.5,57,3];
const edgeChr22 = [18,-54,3, 20,55,5, 22,-39,3, 24,48,3, 26,-59,1, 28,34,3, 30,-46,5, 32,57,3, 34,-31,3, 36,51,5, 38,-57,3, 40,41,3, 42,-48,1, 44,58,3, 46,-55,5, 48,33,3, 50,-37,3];
const edgeChrX = [3.5,27,3, 6.5,-34,5, 9.5,20,3, 12.5,-25,3, 15.5,31,1, 18.5,-38,3, 21.5,23,5, 24.5,-30,3, 27.5,17,3, 30.5,-36,5, 33.5,29,3, 36.5,-21,3, 39.5,25,5, 42.5,-40,3, 45.5,18,3, 48.5,-27,5, 51.5,32,3, 54.5,-33,3, 57.5,22,5, 63.5,-37,3, 66.5,28,3, 69.5,-24,5, 72.5,30,3, 75.5,-39,3, 78.5,16,5, 81.5,-28,3, 84.5,33,3, 87.5,-35,5, 90.5,23,3, 93.5,-26,3, 96.5,29,5, 99.5,-41,3, 102.5,19,3, 105.5,-32,5, 108.5,31,3, 111.5,-22,3, 114.5,24,5, 117.5,-37,3, 120.5,27,3, 123.5,-26,5, 126.5,32,3, 129.5,-40,3, 132.5,20,5, 135.5,-30,3, 138.5,30,3, 141.5,-34,5, 144.5,23,3, 147.5,-25,3, 150.5,28,5, 153.5,-36,3];

const bands = [bandChr1,bandChr2,bandChr3,bandChr4,bandChr5,bandChr6,bandChr7,bandChr8,bandChr9,bandChr10,bandChr11,bandChr12,bandChr13,bandChr14,bandChr15,bandChr16,bandChr17,bandChr18,bandChr19,bandChr20,bandChr21,bandChr22,bandChrX];
const edges = [edgeChr1,edgeChr2,edgeChr3,edgeChr4,edgeChr5,edgeChr6,edgeChr7,edgeChr8,edgeChr9,edgeChr10,edgeChr11,edgeChr12,edgeChr13,edgeChr14,edgeChr15,edgeChr16,edgeChr17,edgeChr18,edgeChr19,edgeChr20,edgeChr21,edgeChr22,edgeChrX];

// outlying variants: [chromosome, position Mb, beta, consequence index]
const outliers = [
 ['1',56.3,-0.2276,1],['1',108.5,0.0440,5],['1',55,0.0180,3],['1',55.5,0.0120,5],['1',107.5,0.0135,5],['1',55.5,-0.0140,5],['1',61,-0.0095,3],['1',150.5,-0.0297,1],['1',150.5,-0.0092,1],['1',234,0.0119,3],['1',223,0.0076,3],['1',113,0.0079,3],
 ['2',21.1,0.0526,1],['2',27,0.0339,1],['2',21,0.0281,5],['2',21.2,0.0137,1],['2',21.2,0.0102,2],['2',21.1,-0.0279,1],['2',21.1,-0.0365,1],['2',44,-0.0263,3],['2',44.1,-0.0680,1],['2',44,-0.0121,1],['2',64,0.0102,3],['2',101,0.0105,0],['2',180,0.0079,3],['2',220,0.0076,1],['2',180,-0.0074,0],
 ['3',4,0.0089,5],['3',13,-0.0118,1],['3',135,0.0155,5],['3',172,0.0097,1],['3',186,0.0216,1],['3',186,0.0080,1],
 ['4',75,0.0142,1],['4',75,0.0071,1],['4',124,-0.0092,1],['4',129,-0.0097,3],['4',183,0.0079,4],
 ['5',74.2,0.0180,1],['5',74.2,0.0188,2],['5',74.2,0.0110,3],['5',156.6,0.0210,5],['5',156.6,-0.0135,0],['5',156.6,-0.0145,0],['5',74,-0.0090,5],['5',40,0.0070,1],['5',168,0.0076,1],
 ['6',33,0.0276,1],['6',31,0.0106,5],['6',36,0.0080,5],['6',118,0.0097,1],['6',160,0.0102,3],['6',18,-0.0100,3],['6',22,-0.0125,5],['6',26,-0.0145,3],['6',30,-0.0112,1],['6',33,-0.0135,3],['6',37,-0.0095,5],
 ['7',21,0.0119,3],['7',44.7,0.0276,5],['7',44.7,-0.0210,5],['7',74.9,0.0234,0],['7',74.9,0.0222,1],['7',142,0.0092,1],['7',150,-0.0092,3],
 ['8',20.3,-0.0357,5],['8',20.3,-0.0126,0],['8',60,-0.0100,3],['8',121,0.0097,5],['8',126.8,-0.0205,3],['8',100,-0.0095,0],
 ['9',14.6,-0.0347,3],['9',136.2,0.0230,3],['9',136.2,0.0210,3],['9',136.2,0.0188,5],['9',136.2,0.0115,3],['9',100,-0.0090,3],['9',80,-0.0095,3],
 ['10',19,0.0079,3],['10',72.4,0.0090,1],['10',100.6,0.0110,1],['10',118.6,-0.0140,5],
 ['11',65.5,0.0110,1],['11',117.8,0.0105,5],['11',46.5,-0.0118,1],['11',3.2,-0.0099,5],['11',31.3,-0.0087,4],['11',61.5,-0.0263,5],['11',116.3,-0.0352,1],['11',116.3,-0.0402,4],
 ['12',8.9,0.0097,1],['12',24,-0.0113,1],['12',24,-0.0134,1],['12',91.3,0.0105,1],['12',60,0.0080,1],['12',121.5,-0.0181,3],
 ['13',36.8,-0.0113,3],['13',80,0.0076,5],['13',112,0.0079,3],
 ['14',94.6,0.0142,1],['14',94.6,0.0120,5],['14',70,-0.0090,3],['14',85,-0.0110,3],
 ['15',58.5,0.1056,3],['15',58.5,0.0294,3],['15',58.5,0.0271,3],['15',58.5,0.0234,3],['15',58.5,0.0118,1],['15',58.5,-0.0166,3],['15',58.5,-0.0197,3],['15',58.5,-0.0392,3],['15',78,-0.0110,3],
 ['16',57.0,0.0883,1],['16',57.0,0.0810,3],['16',57.5,-0.0928,5],['16',57.5,-0.0807,2],['16',57.5,-0.0476,5],['16',57.5,-0.0190,5],['16',57.5,-0.0157,5],['16',57.5,0.0137,1],['16',57.5,-0.0113,3],['16',57.5,-0.0134,3],
 ['16',67.6,0.0518,1],['16',67.6,-0.0260,1],['16',73.6,-0.0418,3],['16',73.6,-0.0673,3],['16',60,0.0100,3],['16',62,0.0080,3],['16',5,0.0089,1],
 ['17',67.6,0.0229,5],['17',67.6,0.0194,1],['17',67.6,0.0093,1],['17',67.6,-0.0160,3],['17',67.6,-0.0100,1],['17',45.6,0.0115,3],['17',8.3,-0.0126,1],
 ['18',59.8,0.0079,3],
 ['19',9.4,0.0176,3],['19',9.4,0.0137,4],['19',11.0,-0.1409,3],['19',10.0,-0.0628,1],['19',46,0.0641,5],['19',46,0.0260,5],['19',46,0.0184,3],['19',47,0.0168,3],['19',47,0.0145,3],['19',46,-0.0166,5],['19',46,-0.0205,5],['19',46,-0.0213,1],['19',33,-0.0092,1],['19',9.5,-0.0092,3],
 ['20',45.2,0.0192,5],['20',45.2,-0.0187,5],['20',45.2,-0.0110,3],['20',12.1,0.0097,3],['20',12.1,0.0090,3],['20',32.2,-0.0134,1],['20',32.2,-0.0145,1],
 ['21',40.4,0.0079,5],['21',32,-0.0065,3],
 ['22',44.7,0.0105,1],['22',44.7,-0.0080,3],['22',45.5,-0.0095,3],
 ['X',40,-0.0055,3]
];

// labelled variants: [label, chromosome, position, beta, textX (cum Mb), textY, segEndX (cum Mb), segEndY]
const annotations = [
 ['rs583104','1',108.5,0.0440, 21.1,0.0342, 83.4,0.0407],
 ['rs1367117 (APOB)','2',21.1,0.0526, 384.9,0.0741, 361.8,0.0681],
 ['rs11887534 (ABCG8)','2',44.1,-0.0680, 155.8,-0.0894, 197.0,-0.0830],
 ['rs11591147 (PCSK9)','1',56.3,-0.2276, 248.2,-0.2066, 168.8,-0.2126],
 ['rs964184 (ZPR1)','11',116.3,-0.0402, 1740.7,-0.0623, 1821.1,-0.0552],
 ['rs1077835','15',58.5,0.1056, 2175.9,0.0849, 2308.5,0.0870],
 ['rs4986970 (LCAT)','16',67.6,0.0518, 2085.4,0.0452, 2300.5,0.0457],
 ['rs4420638','19',46,0.0641, 2893.5,0.0844, 2762.8,0.0833],
 ['rs217181','16',73.6,-0.0418, 3017.1,-0.0268, 2900.5,-0.0268],
 ['rs9302635','16',73.6,-0.0673, 2665.3,-0.0465, 2533.7,-0.0486],
 ['rs247617','16',57.5,-0.0476, 2282.4,-0.0618, 2402.0,-0.0586],
 ['rs3764261','16',57.5,-0.0928, 2657.3,-0.1135, 2524.6,-0.1101],
 ['rs6511720','19',11.0,-0.1409, 2861.3,-0.1619, 2730.7,-0.1598]
];

// ---------------- STYLE ----------------
const RED = '#E64B35', BLUE = '#4DBBD5';
const FONT = 'DejaVu Sans';
const symbols = [
 'path://M0,6 L24,6 L12,26.8 Z M0,20.8 L24,20.8 L12,0 Z',
 'path://M12,0 L24,12 L12,24 L0,12 Z M12,0 L12,24 M0,12 L24,12',
 'path://M0,12 A12,12 0 1 1 24,12 A12,12 0 1 1 0,12 Z M12,0 L12,24 M0,12 L24,12',
 'path://M0,0 L24,0 L12,20.8 Z',
 'path://M0,12 A12,12 0 1 1 24,12 A12,12 0 1 1 0,12 Z',
 'path://M0,0 L24,24 M24,0 L0,24'
];
const symSizes = [[26,29],[27,27],[22,22],[26,23],[22,22],[21,21]];

// cumulative chromosome starts
const starts = [];
let acc = 0;
chrLengths.forEach((l) => { starts.push(acc); acc += l; });
const genomeEnd = acc;
const xMin = -0.05 * genomeEnd, xMax = genomeEnd * 1.05;
const cum = (c, p) => starts[chrNames.indexOf(c)] + p;

const seriesData = consequences.map(() => []);
const addPoint = (i, p, b, k) => {
  const col = i % 2 === 0 ? RED : BLUE;
  seriesData[k].push({ value: [starts[i] + p, b], itemStyle: { borderColor: col } });
};
bands.forEach((arr, i) => arr.forEach(([p, b, k]) => addPoint(i, p, b / 1e4, k)));
edges.forEach((arr, i) => { for (let j = 0; j + 2 < arr.length; j += 3) addPoint(i, arr[j], arr[j + 1] / 1e4, arr[j + 2]); });
outliers.forEach(([c, p, b, k]) => addPoint(chrNames.indexOf(c), p, b, k));

const tickCenters = tickChrs.map((c) => { const i = chrNames.indexOf(c); return starts[i] + chrLengths[i] / 2; });
const boundaries = starts.concat([genomeEnd]);

const gridLines = [];
boundaries.forEach((v) => gridLines.push({ xAxis: v, lineStyle: { color: '#EBEBEB', width: 1.2, type: 'solid' } }));
yMinor.forEach((v) => gridLines.push({ yAxis: v, lineStyle: { color: '#EBEBEB', width: 1.2, type: 'solid' } }));
yTicks.forEach((v) => gridLines.push({ yAxis: v, lineStyle: { color: '#EBEBEB', width: 2.4, type: 'solid' } }));

const scatterSeries = consequences.map((name, k) => ({
  type: 'scatter', name, data: seriesData[k], symbol: symbols[k], symbolSize: symSizes[k],
  itemStyle: { color: 'rgba(0,0,0,0)', borderWidth: 3.2, opacity: 0.75 },
  emphasis: { disabled: true }, z: 5, animation: false, progressive: 0
}));

const legendItem = (k) => ({ name: consequences[k], icon: symbols[k], itemStyle: { color: 'rgba(0,0,0,0)', borderColor: '#000', borderWidth: 2, opacity: 1 } });
const legendBase = { orient: 'vertical', itemWidth: 22, itemHeight: 22, itemGap: 18, top: 1909, selectedMode: false,
  textStyle: { fontSize: 53, color: '#000', fontFamily: FONT, padding: [0, 0, 0, 53] }, padding: 0 };

const chart = echarts.init(document.getElementById('c'), null, { renderer: 'canvas', width: 3600, height: 2100 });
const option = {
  animation: false,
  backgroundColor: '#fff',
  grid: { left: 246, right: 34, top: 237, bottom: 469, containLabel: false },
  xAxis: {
    type: 'value', min: xMin, max: xMax,
    axisLine: { show: false, onZero: false }, axisTick: { show: false }, splitLine: { show: false },
    axisLabel: { customValues: tickCenters, margin: 34, fontSize: 53, color: '#4D4D4D', fontFamily: FONT,
      formatter: (v) => { const j = tickCenters.findIndex((c) => Math.abs(c - v) < 0.5); return j >= 0 ? tickChrs[j] : ''; } }
  },
  yAxis: {
    type: 'value', min: -0.2442, max: 0.1222,
    axisLine: { show: false, onZero: false }, splitLine: { show: false },
    axisTick: { show: true, customValues: yTicks, length: 14, lineStyle: { color: '#333333', width: 4.5 } },
    axisLabel: { customValues: yTicks, margin: 33, fontSize: 53, color: '#4D4D4D', fontFamily: FONT, formatter: (v) => v.toFixed(1) }
  },
  legend: [
    Object.assign({}, legendBase, { left: 1727, data: [legendItem(0), legendItem(1)] }),
    Object.assign({}, legendBase, { left: 1994, data: [legendItem(2), legendItem(3)] }),
    Object.assign({}, legendBase, { left: 2335, data: [legendItem(4), legendItem(5)] })
  ],
  series: [
    { type: 'scatter', data: [], z: 1, silent: true,
      markLine: { silent: true, symbol: ['none', 'none'], label: { show: false }, animation: false, data: gridLines } },
    { type: 'scatter', data: [], z: 2, silent: true,
      markLine: { silent: true, symbol: ['none', 'none'], label: { show: false }, animation: false,
        data: [{ yAxis: 0, lineStyle: { color: '#000', width: 3.4, type: 'solid' } }] } }
  ].concat(scatterSeries)
};
chart.setOption(option);

// text and annotation layer
const g = [];
g.push({ type: 'text', left: 248, top: 27, style: { text: 'iPGS coefficients', font: `79px "${FONT}"`, fill: '#000' } });
g.push({ type: 'text', left: 248, top: 138, style: { text: 'INI10023584: PLs to Tot. Lipids in XL VLDL % (truncated)', font: `66.5px "${FONT}"`, fill: '#000' } });
g.push({ type: 'text', x: 64, y: 934, rotation: Math.PI / 2, style: { text: 'PGS effect size', font: `66px "${FONT}"`, fill: '#000', align: 'center', verticalAlign: 'middle' } });
g.push({ type: 'text', x: 1906, y: 1761, style: { text: 'Genomic position (GRCh37/hg19)', font: `66px "${FONT}"`, fill: '#000', align: 'center', verticalAlign: 'middle' } });
g.push({ type: 'text', x: 1219, y: 1968, style: { text: 'Consequence', font: `66px "${FONT}"`, fill: '#000', align: 'left', verticalAlign: 'middle' } });
annotations.forEach(([lab, c, p, b, tx, ty, ex, ey]) => {
  const pt = chart.convertToPixel({ xAxisIndex: 0, yAxisIndex: 0 }, [cum(c, p), b]);
  const tp = chart.convertToPixel({ xAxisIndex: 0, yAxisIndex: 0 }, [tx, ty]);
  const ep = chart.convertToPixel({ xAxisIndex: 0, yAxisIndex: 0 }, [ex, ey]);
  g.push({ type: 'line', z: 20, shape: { x1: pt[0], y1: pt[1], x2: ep[0], y2: ep[1] }, style: { stroke: '#000', lineWidth: 1.6 } });
  g.push({ type: 'text', z: 21, x: tp[0], y: tp[1], style: { text: lab, font: `46px "${FONT}"`, fill: '#000', align: 'center', verticalAlign: 'middle' } });
});
chart.setOption({ graphic: g });
</script>
</body>
</html>
